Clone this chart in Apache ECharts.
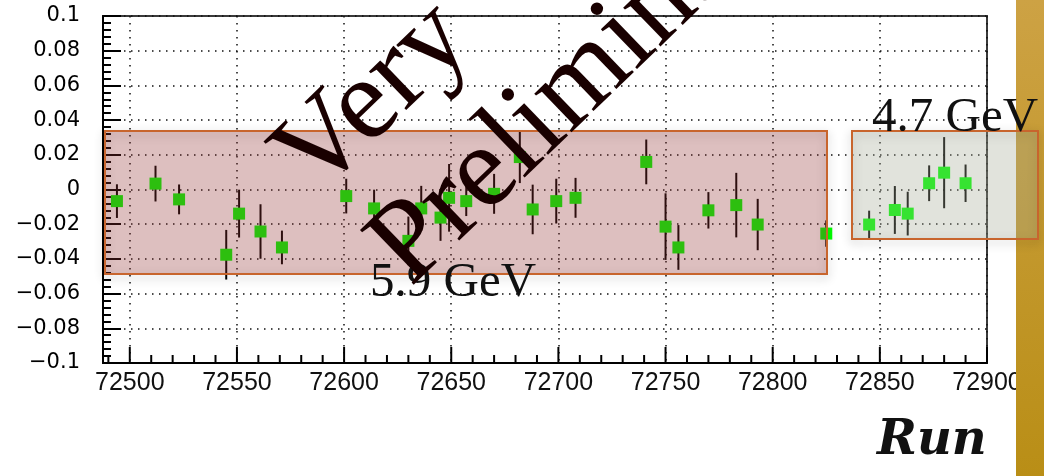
<!DOCTYPE html>
<html>
<head>
<meta charset="utf-8">
<script src="https://cdn.jsdelivr.net/npm/echarts@6/dist/echarts.min.js"></script>
<style>
  html, body { margin: 0; padding: 0; background: #ffffff; }
  #chart { width: 1044px; height: 476px; }
</style>
</head>
<body>
<div id="chart"></div>
<script>
// Run numbers, measured asymmetry and its uncertainty for each run
const runs = [72494, 72512, 72523, 72545, 72551, 72561, 72571, 72601, 72614, 72630, 72636,
  72645, 72649, 72657, 72670, 72682, 72688, 72699, 72708, 72741, 72750, 72756, 72770,
  72783, 72793, 72825, 72845, 72857, 72863, 72873, 72880, 72890];
const values = [-0.0067, 0.0034, -0.0057, -0.0376, -0.0139, -0.0242, -0.0334, -0.0038,
  -0.0109, -0.0296, -0.0109, -0.0162, -0.0048, -0.0067, -0.0025, 0.0187, -0.0115, -0.0067,
  -0.0048, 0.0159, -0.0214, -0.0334, -0.0120, -0.0090, -0.0202, -0.0254, -0.0202, -0.0118,
  -0.0139, 0.0036, 0.0097, 0.0036];
const errors = [0.0097, 0.0103, 0.0086, 0.0143, 0.0138, 0.0157, 0.0097, 0.0100, 0.0108,
  0.0140, 0.0130, 0.0134, 0.0195, 0.0086, 0.0115, 0.0150, 0.0143, 0.0129, 0.0115, 0.0129,
  0.0192, 0.0129, 0.0105, 0.0186, 0.0148, 0.0076, 0.0080, 0.0138, 0.0126, 0.0103, 0.0205,
  0.0108];

// Axis tick labels
const xTickLabels = ['72500', '72550', '72600', '72650', '72700', '72750', '72800', '72850', '72900'];
const yTickLabels = ['\u22120.1', '\u22120.08', '\u22120.06', '\u22120.04', '\u22120.02', '0',
  '0.02', '0.04', '0.06', '0.08', '0.1'];

// Axis ranges
const runMin = 72487.5, runMax = 72900;
const yMin = -0.1, yMax = 0.1;

// Run-axis tick marks: a short tick every 10 runs, a long one every 50
const xTickRuns = [];
for (let r = 72490; r <= runMax; r += 10) xTickRuns.push(r);

const chart = echarts.init(document.getElementById('chart'));

// Plot frame in pixels; the label grid shares it so its labels line up with the data axis
const frameLeft = 103, frameRight = 987, frameTop = 16, frameBottom = 363;
const pxPerRun = (frameRight - frameLeft) / (runMax - runMin);
const gridFor = (startRun) => ({
  left: frameLeft + (startRun - runMin) * pxPerRun,
  right: 1044 - frameRight,
  top: frameTop,
  bottom: 476 - frameBottom
});

const points = runs.map((r, i) => [r, values[i], errors[i]]);
const dotted = { color: '#111', width: 1.5, type: [1.5, 5.5] };
const serif = '"Liberation Serif", "Times New Roman", serif';

// Anchor for rotated/plain text: baseline point shifted to the canvas "middle" line
const angle = 44 * Math.PI / 180;
const markSize = 117;
function midAnchor(bx, by, size, rot) {
  const k = 0.34 * size;
  return [bx - k * Math.sin(rot), by - k * Math.cos(rot)];
}
const veryPos = midAnchor(322, 204, markSize, angle);
const prelimPos = midAnchor(417, 294, markSize, angle);

chart.setOption({
  animation: false,
  backgroundColor: '#ffffff',
  grid: [
    Object.assign(gridFor(runMin), { show: true, borderColor: '#3a3a3a', borderWidth: 2 }),
    gridFor(72500)
  ],
  xAxis: [
    { // data axis: carries the points and the bottom axis line
      gridIndex: 0, type: 'value', min: runMin, max: runMax, position: 'bottom',
      axisLine: { show: true, onZero: false, lineStyle: { color: '#000', width: 2 } },
      axisTick: { show: false }, axisLabel: { show: false }, splitLine: { show: false }
    },
    { // labels and dotted grid every 50 runs
      gridIndex: 1, type: 'value', min: 72500, max: runMax, interval: 50, position: 'bottom',
      axisLine: { show: false, onZero: false },
      axisTick: { show: false },
      axisLabel: {
        show: true, margin: 8, color: '#111', fontFamily: '"Liberation Sans", Arial, sans-serif',
        fontSize: 25, showMinLabel: true, showMaxLabel: true,
        formatter: (v) => xTickLabels[Math.round((v - 72500) / 50)]
      },
      splitLine: { show: true, lineStyle: dotted }
    }
  ],
  yAxis: [
    {
      gridIndex: 0, type: 'value', min: yMin, max: yMax, interval: 0.02, position: 'left',
      axisLine: { show: true, onZero: false, lineStyle: { color: '#000', width: 2 } },
      axisTick: { show: true, inside: true, length: 18, lineStyle: { color: '#000', width: 2 } },
      minorTick: { show: true, splitNumber: 5, length: 8, lineStyle: { color: '#000', width: 2 } },
      axisLabel: {
        margin: 23, color: '#000', fontFamily: '"DejaVu Sans", sans-serif', fontSize: 21,
        formatter: (v) => yTickLabels[Math.round(v / 0.02) + 5]
      },
      splitLine: { show: true, lineStyle: dotted }
    },
    { gridIndex: 1, type: 'value', min: yMin, max: yMax, show: false }
  ],
  series: [
    { // tick marks standing on the run axis
      type: 'custom', xAxisIndex: 0, yAxisIndex: 0, z: 1, silent: true, clip: false,
      data: xTickRuns.map((r) => [r, yMin]),
      encode: { x: 0, y: 1 },
      renderItem: (params, api) => {
        const run = api.value(0);
        const base = api.coord([run, api.value(1)]);
        const len = run % 50 === 0 ? 16 : 8;
        return {
          type: 'line',
          shape: { x1: base[0], y1: base[1], x2: base[0], y2: base[1] - len },
          style: { stroke: '#000', lineWidth: 2 }
        };
      }
    },
    { // vertical error bars
      type: 'custom', xAxisIndex: 0, yAxisIndex: 0, z: 2, silent: true,
      data: points,
      encode: { x: 0, y: 1 },
      renderItem: (params, api) => {
        const x = api.value(0), y = api.value(1), e = api.value(2);
        const top = api.coord([x, y + e]);
        const bot = api.coord([x, y - e]);
        return {
          type: 'line',
          shape: { x1: top[0], y1: top[1], x2: bot[0], y2: bot[1] },
          style: { stroke: '#000', lineWidth: 2 }
        };
      }
    },
    { // markers
      type: 'scatter', xAxisIndex: 0, yAxisIndex: 0, z: 3, silent: true,
      data: points.map((p) => [p[0], p[1]]),
      symbol: 'rect', symbolSize: 12,
      itemStyle: { color: '#00ff00', opacity: 1 },
      emphasis: { disabled: true }
    }
  ],
  graphic: [
    { // gold side strip
      type: 'rect', z: 5, silent: true,
      shape: { x: 1016, y: 0, width: 28, height: 476 },
      style: {
        fill: new echarts.graphic.LinearGradient(0, 0, 0, 1, [
          { offset: 0, color: '#cda244' }, { offset: 1, color: '#b98e16' }
        ])
      }
    },
    // 5.9 GeV band: shadow outline, translucent fill, border
    {
      type: 'rect', z: 6, silent: true,
      shape: { x: 105, y: 131, width: 722, height: 143 },
      style: { fill: 'none', stroke: 'rgba(90,90,90,0.6)', lineWidth: 2,
        shadowBlur: 10, shadowColor: 'rgba(0,0,0,0.5)', shadowOffsetY: 3 }
    },
    {
      type: 'rect', z: 6, silent: true,
      shape: { x: 105, y: 131, width: 722, height: 143 },
      style: { fill: 'rgba(145,48,48,0.31)', stroke: '#c8652d', lineWidth: 2 }
    },
    // 4.7 GeV band
    {
      type: 'rect', z: 6, silent: true,
      shape: { x: 852, y: 131, width: 186, height: 108 },
      style: { fill: 'none', stroke: 'rgba(90,90,90,0.6)', lineWidth: 2,
        shadowBlur: 10, shadowColor: 'rgba(0,0,0,0.5)', shadowOffsetY: 3 }
    },
    {
      type: 'rect', z: 6, silent: true,
      shape: { x: 852, y: 131, width: 186, height: 108 },
      style: { fill: 'rgba(165,170,150,0.33)', stroke: '#c8652d', lineWidth: 2 }
    },
    { // band labels
      type: 'text', z: 7, silent: true, x: 370, y: 300 - 0.34 * 49,
      style: { text: '5.9 GeV', font: '49px ' + serif, fill: '#111',
        align: 'left', verticalAlign: 'middle', textAlign: 'left', textVerticalAlign: 'middle' }
    },
    {
      type: 'text', z: 7, silent: true, x: 872, y: 135 - 0.34 * 49,
      style: { text: '4.7 GeV', font: '49px ' + serif, fill: '#111',
        align: 'left', verticalAlign: 'middle', textAlign: 'left', textVerticalAlign: 'middle' }
    },
    { // watermark
      type: 'text', z: 8, silent: true, x: veryPos[0], y: veryPos[1], rotation: angle,
      style: { text: 'Very', font: markSize + 'px ' + serif, fill: '#190000',
        align: 'left', verticalAlign: 'middle', textAlign: 'left', textVerticalAlign: 'middle' }
    },
    {
      type: 'text', z: 8, silent: true, x: prelimPos[0], y: prelimPos[1], rotation: angle,
      style: { text: 'Preliminary', font: markSize + 'px ' + serif, fill: '#190000',
        align: 'left', verticalAlign: 'middle', textAlign: 'left', textVerticalAlign: 'middle' }
    },
    { // axis title
      type: 'text', z: 8, silent: true, x: 877, y: 458 - 0.35 * 48,
      style: { text: 'Run', font: 'italic bold 48px "DejaVu Serif", serif', fill: '#111',
        align: 'left', verticalAlign: 'middle', textAlign: 'left', textVerticalAlign: 'middle' }
    }
  ]
});
</script>
</body>
</html>
